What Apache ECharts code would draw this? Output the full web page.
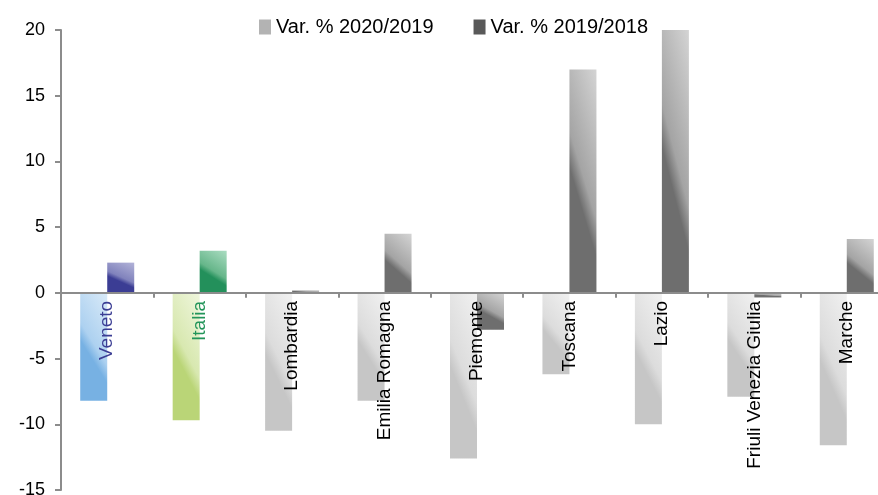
<!DOCTYPE html>
<html>
<head>
<meta charset="utf-8">
<script src="https://cdn.jsdelivr.net/npm/echarts@6/dist/echarts.min.js"></script>
<style>
  html, body { margin: 0; padding: 0; background: #fff; }
  #chart { width: 878px; height: 495px; }
</style>
</head>
<body>
<div id="chart"></div>
<script>
// data
var categories = ['Veneto', 'Italia', 'Lombardia', 'Emilia Romagna', 'Piemonte', 'Toscana', 'Lazio', 'Friuli Venezia Giulia', 'Marche'];
var var2020 = [-8.2, -9.7, -10.5, -8.2, -12.6, -6.2, -10.0, -7.9, -11.6];
var var2019 = [2.3, 3.2, 0.2, 4.5, -2.8, 17.0, 20.1, -0.35, 4.1];
var seriesNames = ['Var. % 2020/2019', 'Var. % 2019/2018'];
var yTicks = { min: -15, max: 20, step: 5 };

// palettes: [light, mid, base]
var gray1 = ['#f1f1f1', '#dcdcdc', '#c6c6c6'];
var gray2 = ['#d4d4d4', '#a4a4a4', '#6e6e6e'];
var special1 = { 'Veneto': ['#d9eaf8', '#add1f0', '#77b1e3'], 'Italia': ['#eff6dd', '#d8e8b0', '#bad577'] };
var special2 = { 'Veneto': ['#b2b3d8', '#8082bc', '#3b3d94'], 'Italia': ['#aadcc1', '#66b68a', '#23905b'] };
var labelColors = { 'Veneto': '#3b3d94', 'Italia': '#23955a' };

var plotH = 460;
var pxPerUnit = plotH / (yTicks.max - yTicks.min);
var barW = 27;

// glossy look: light top, slanted edge, solid base
function gloss(value, pal) {
  var w = barW;
  var h = Math.max(Math.abs(value) * pxPerUnit, 1);
  var nx = -0.4 * h, ny = w;
  var range = 1.4 * w * h;
  var k = range / (nx * nx + ny * ny);
  return new echarts.graphic.LinearGradient(1, 0, (w + nx * k) / w, (ny * k) / h, [
    { offset: 0, color: pal[0] },
    { offset: 0.48, color: pal[1] },
    { offset: 0.6, color: pal[2] },
    { offset: 1, color: pal[2] }
  ]);
}

function buildData(values, defPal, specials) {
  return values.map(function (v, i) {
    var pal = specials[categories[i]] || defPal;
    return { value: v, itemStyle: { color: gloss(v, pal) } };
  });
}

var chart = echarts.init(document.getElementById('chart'));
var font = 'Liberation Sans';
// labels sit just under the zero line, measured from the grid bottom
var zeroOffset = yTicks.min * pxPerUnit; // negative

chart.setOption({
  animation: false,
  legend: {
    left: 254,
    top: 12,
    icon: 'rect',
    itemWidth: 12,
    itemHeight: 15,
    itemGap: 40,
    textStyle: { fontFamily: font, fontSize: 20, color: '#000' },
    data: [
      { name: seriesNames[0], itemStyle: { color: '#b3b3b3' } },
      { name: seriesNames[1], itemStyle: { color: '#595959' } }
    ]
  },
  grid: { left: 61, top: 30, width: 832, height: plotH, containLabel: false, outerBoundsMode: 'none' },
  xAxis: {
    type: 'category',
    data: categories,
    z: 5,
    axisLine: { onZero: true, lineStyle: { color: '#8c8c8c', width: 2 } },
    axisTick: { show: true, length: 5, lineStyle: { color: '#8c8c8c', width: 2 } },
    axisLabel: {
      interval: 0,
      rotate: 90,
      margin: zeroOffset + 8,
      fontFamily: font,
      fontSize: 19,
      color: function (val) { return labelColors[val] || '#000'; }
    },
    splitLine: { show: false }
  },
  yAxis: {
    type: 'value',
    min: yTicks.min,
    max: yTicks.max,
    interval: yTicks.step,
    axisLine: { show: true, lineStyle: { color: '#8c8c8c', width: 2 } },
    axisTick: { show: true, length: 6, lineStyle: { color: '#8c8c8c', width: 2 } },
    axisLabel: { margin: 16, fontFamily: font, fontSize: 18, color: '#000' },
    splitLine: { show: false }
  },
  series: [
    {
      name: seriesNames[0],
      type: 'bar',
      barWidth: barW,
      barGap: '0%',
      itemStyle: { color: '#b3b3b3' },
      data: buildData(var2020, gray1, special1)
    },
    {
      name: seriesNames[1],
      type: 'bar',
      barWidth: barW,
      barGap: '0%',
      itemStyle: { color: '#595959' },
      data: buildData(var2019, gray2, special2)
    }
  ]
});
</script>
</body>
</html>
